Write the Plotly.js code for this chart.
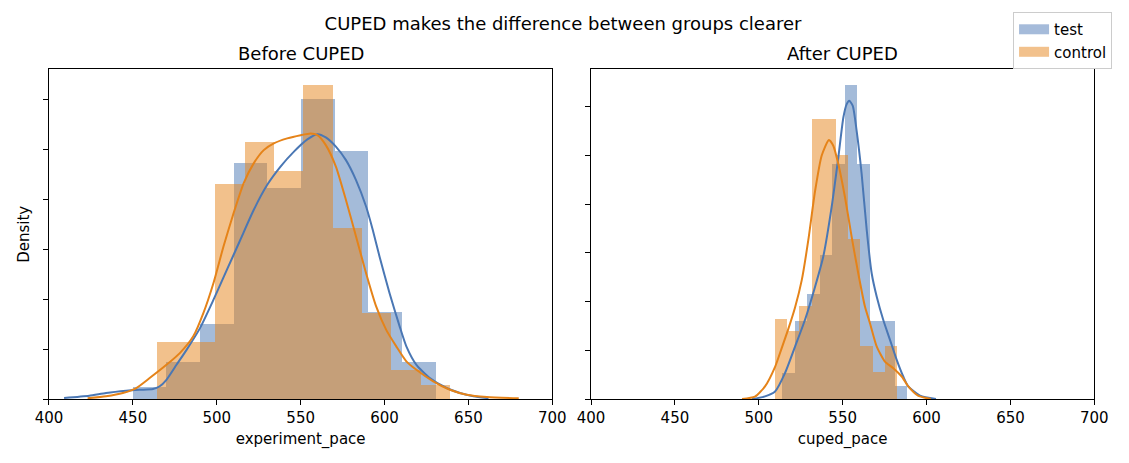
<!DOCTYPE html>
<html>
<head>
<meta charset="utf-8">
<script src="https://cdn.plot.ly/plotly-3.0.1.min.js"></script>
<style>
  html, body { margin: 0; padding: 0; background: #fff; }
  #chart { width: 1129px; height: 463px; }
</style>
</head>
<body>
<div id="chart"></div>
<script>
// ---------- data ----------
const seriesNames = ["test", "control"];
const sampleSize = 100;

// Before CUPED: histogram bin edges and counts
const beforeTestEdges = [449.9, 470.0, 490.0, 510.1, 530.2, 550.3, 570.3, 590.4, 610.5, 630.5];
const beforeTestCounts = [1, 3, 6, 19, 17, 24, 20, 7, 3];
const beforeCtrlEdges = [464.2, 481.7, 499.2, 516.6, 534.1, 551.6, 569.1, 586.6, 604.0, 621.5, 639.0];
const beforeCtrlCounts = [4, 4, 15, 18, 16, 22, 12, 6, 2, 1];

// After CUPED: histogram bin edges and counts
const afterTestEdges = [514.0, 521.45, 528.9, 536.35, 543.8, 551.25, 558.7, 566.15, 573.6, 581.05, 588.5];
const afterTestCounts = [2, 6, 8, 11, 18, 24, 18, 6, 6, 1];
const afterCtrlEdges = [509.7, 517.0, 524.2, 531.5, 538.8, 546.1, 553.3, 560.6, 567.9, 575.1, 582.4];
const afterCtrlCounts = [6, 5, 7, 21, 21, 18, 12, 4, 2, 4];

// KDE curves (density)
const beforeTestKdeX = [409, 424, 434, 446, 454, 462, 466, 470, 476, 482, 490, 498, 506, 514, 522, 530, 538, 546, 554, 560, 565, 571, 577, 583, 589, 593, 597, 603, 609, 613, 619, 627, 637, 645, 653, 662];
const beforeTestKdeY = [0.00004, 0.00013, 0.00024, 0.00033, 0.00037, 0.00040, 0.00051, 0.00077, 0.00137, 0.00197, 0.00284, 0.00397, 0.00517, 0.00637, 0.00757, 0.00857, 0.00931, 0.00991, 0.01040, 0.01061, 0.01048, 0.01011, 0.00957, 0.00877, 0.00771, 0.00677, 0.00571, 0.00424, 0.00291, 0.00211, 0.00137, 0.00084, 0.00044, 0.00024, 0.00011, 0.00003];
const beforeCtrlKdeX = [423, 434, 444, 452, 460, 470, 478, 486, 492, 498, 504, 510, 516, 522, 528, 534, 542, 550, 556, 560, 565, 571, 577, 583, 589, 595, 601, 607, 613, 619, 629, 639, 649, 661, 680];
const beforeCtrlKdeY = [0.00003, 0.00011, 0.00024, 0.00044, 0.00084, 0.00137, 0.00184, 0.00251, 0.00344, 0.00464, 0.00611, 0.00744, 0.00864, 0.00944, 0.00997, 0.01024, 0.01044, 0.01057, 0.01064, 0.01057, 0.01017, 0.00931, 0.00797, 0.00651, 0.00504, 0.00371, 0.00277, 0.00211, 0.00151, 0.00117, 0.00071, 0.00037, 0.00017, 0.00008, 0.00003];

const afterTestKdeX = [495.9, 503.7, 509.7, 515.6, 521.6, 527.5, 533.5, 538.4, 543.4, 547.4, 550.4, 552.4, 553.9, 556.0, 558.3, 561.3, 564.3, 567.3, 570.3, 574.2, 578.2, 582.2, 586.1, 589.1, 596.1, 605.6];
const afterTestKdeY = [0.00000, 0.00027, 0.00078, 0.00266, 0.00538, 0.00811, 0.01150, 0.01460, 0.01970, 0.02480, 0.02890, 0.03027, 0.03061, 0.03010, 0.02754, 0.02311, 0.01738, 0.01288, 0.01049, 0.00811, 0.00607, 0.00402, 0.00231, 0.00129, 0.00034, 0.00000];
const afterCtrlKdeX = [490.0, 497.7, 503.7, 509.7, 513.6, 517.6, 521.6, 525.6, 529.5, 533.5, 537.5, 541.8, 544.4, 547.4, 551.4, 555.5, 559.3, 563.3, 566.3, 570.3, 575.2, 580.2, 585.2, 589.1, 594.9, 602.6];
const afterCtrlKdeY = [0.00000, 0.00024, 0.00129, 0.00330, 0.00520, 0.00720, 0.00940, 0.01220, 0.01630, 0.02130, 0.02500, 0.02660, 0.02600, 0.02413, 0.02069, 0.01649, 0.01288, 0.00946, 0.00776, 0.00538, 0.00384, 0.00317, 0.00231, 0.00129, 0.00034, 0.00000];

const xTickVals = [400, 450, 500, 550, 600, 650, 700];
const beforeYTicks = [0, 0.002, 0.004, 0.006, 0.008, 0.010, 0.012];
const afterYTicks = [0, 0.005, 0.010, 0.015, 0.020, 0.025, 0.030];

// ---------- styling ----------
const testColor = "#4a77b4";
const ctrlColor = "#e58319";
const barOpacity = 0.5;
const FONT = "DejaVu Sans, Liberation Sans, sans-serif";

function binsToBars(edges, counts) {
  const x = [], w = [], y = [];
  for (let i = 0; i < counts.length; i++) {
    const width = edges[i + 1] - edges[i];
    x.push((edges[i] + edges[i + 1]) / 2);
    w.push(width);
    y.push(counts[i] / (sampleSize * width));
  }
  return { x, w, y };
}

function barTrace(edges, counts, color, xa, ya, name) {
  const b = binsToBars(edges, counts);
  return {
    type: "bar", x: b.x, y: b.y, width: b.w, name: name,
    xaxis: xa, yaxis: ya, showlegend: false,
    marker: { color: color, opacity: barOpacity, line: { width: 0 } },
    hoverinfo: "skip"
  };
}
function kdeTrace(x, y, color, xa, ya, name) {
  return {
    type: "scatter", mode: "lines", x: x, y: y, name: name,
    xaxis: xa, yaxis: ya, showlegend: false,
    line: { color: color, width: 2, shape: "spline", smoothing: 0.6 },
    hoverinfo: "skip"
  };
}

const bTest = binsToBars(beforeTestEdges, beforeTestCounts);
const bCtrl = binsToBars(beforeCtrlEdges, beforeCtrlCounts);
const aTest = binsToBars(afterTestEdges, afterTestCounts);
const aCtrl = binsToBars(afterCtrlEdges, afterCtrlCounts);
const beforeTop = 1.05 * Math.max(...bTest.y, ...bCtrl.y, ...beforeTestKdeY, ...beforeCtrlKdeY);
const afterTop = 1.05 * Math.max(...aTest.y, ...aCtrl.y, ...afterTestKdeY, ...afterCtrlKdeY);

function mix(hex, a) {
  const r = parseInt(hex.slice(1, 3), 16), g = parseInt(hex.slice(3, 5), 16), bl = parseInt(hex.slice(5, 7), 16);
  const f = c => Math.round(c * a + 255 * (1 - a));
  return `rgb(${f(r)},${f(g)},${f(bl)})`;
}

const traces = [
  barTrace(beforeTestEdges, beforeTestCounts, testColor, "x", "y", seriesNames[0]),
  barTrace(beforeCtrlEdges, beforeCtrlCounts, ctrlColor, "x", "y", seriesNames[1]),
  barTrace(afterTestEdges, afterTestCounts, testColor, "x2", "y2", seriesNames[0]),
  barTrace(afterCtrlEdges, afterCtrlCounts, ctrlColor, "x2", "y2", seriesNames[1]),
  kdeTrace(beforeTestKdeX, beforeTestKdeY, testColor, "x", "y", seriesNames[0]),
  kdeTrace(beforeCtrlKdeX, beforeCtrlKdeY, ctrlColor, "x", "y", seriesNames[1]),
  kdeTrace(afterTestKdeX, afterTestKdeY, testColor, "x2", "y2", seriesNames[0]),
  kdeTrace(afterCtrlKdeX, afterCtrlKdeY, ctrlColor, "x2", "y2", seriesNames[1]),
  // legend patches
  { type: "scatter", mode: "lines", x: [null], y: [null], name: seriesNames[0], xaxis: "x", yaxis: "y",
    line: { color: mix(testColor, barOpacity), width: 10 }, showlegend: true, hoverinfo: "skip" },
  { type: "scatter", mode: "lines", x: [null], y: [null], name: seriesNames[1], xaxis: "x", yaxis: "y",
    line: { color: mix(ctrlColor, barOpacity), width: 10 }, showlegend: true, hoverinfo: "skip" }
];

const tickFont = { family: FONT, size: 15, color: "#000" };
const titleFont = { family: FONT, size: 18, color: "#000" };

function xAxis(domain, anchor, title) {
  return {
    domain: domain, anchor: anchor, range: [400, 700], tickmode: "array", tickvals: xTickVals,
    ticks: "outside", ticklen: 5, tickwidth: 1, tickcolor: "#000",
    showline: true, linecolor: "#000", linewidth: 1, mirror: true,
    showgrid: false, zeroline: false, tickfont: tickFont,
    title: { text: title, font: tickFont, standoff: 7 }
  };
}
function yAxis(domain, anchor, top, ticks, title) {
  const ax = {
    domain: domain, anchor: anchor, range: [0, top], tickmode: "array", tickvals: ticks,
    showticklabels: false, ticks: "outside", ticklen: 5, tickwidth: 1, tickcolor: "#000",
    showline: true, linecolor: "#000", linewidth: 1, mirror: true,
    showgrid: false, zeroline: false
  };
  if (title) ax.title = { text: title, font: tickFont, standoff: 9 };
  return ax;
}

const yDom = [0.1382, 0.8499];
const layout = {
  width: 1129, height: 463,
  margin: { l: 0, r: 0, t: 0, b: 0 },
  paper_bgcolor: "#fff", plot_bgcolor: "#fff",
  barmode: "overlay", bargap: 0,
  font: { family: FONT, color: "#000" },
  title: { text: "CUPED makes the difference between groups clearer", font: titleFont,
           x: 0.4987, xanchor: "center", y: 0.948, yanchor: "middle" },
  xaxis: xAxis([0.0434, 0.4892], "y", "experiment_pace"),
  yaxis: yAxis(yDom, "x", beforeTop, beforeYTicks, "Density"),
  xaxis2: xAxis([0.5235, 0.9693], "y2", "cuped_pace"),
  yaxis2: yAxis(yDom, "x2", afterTop, afterYTicks, null),
  showlegend: true,
  legend: {
    x: 0.985, xanchor: "right", y: 0.974, yanchor: "top",
    bgcolor: "#fff", bordercolor: "#cccccc", borderwidth: 1,
    font: { family: FONT, size: 15, color: "#000" }, traceorder: "normal"
  },
  annotations: [
    { text: "Before CUPED", xref: "paper", yref: "paper", x: (0.0434 + 0.4892) / 2, y: 0.8834,
      xanchor: "center", yanchor: "middle", showarrow: false, font: titleFont },
    { text: "After CUPED", xref: "paper", yref: "paper", x: (0.5235 + 0.9693) / 2, y: 0.8834,
      xanchor: "center", yanchor: "middle", showarrow: false, font: titleFont }
  ]
};

Plotly.newPlot("chart", traces, layout, { displayModeBar: false, staticPlot: true });
</script>
</body>
</html>
